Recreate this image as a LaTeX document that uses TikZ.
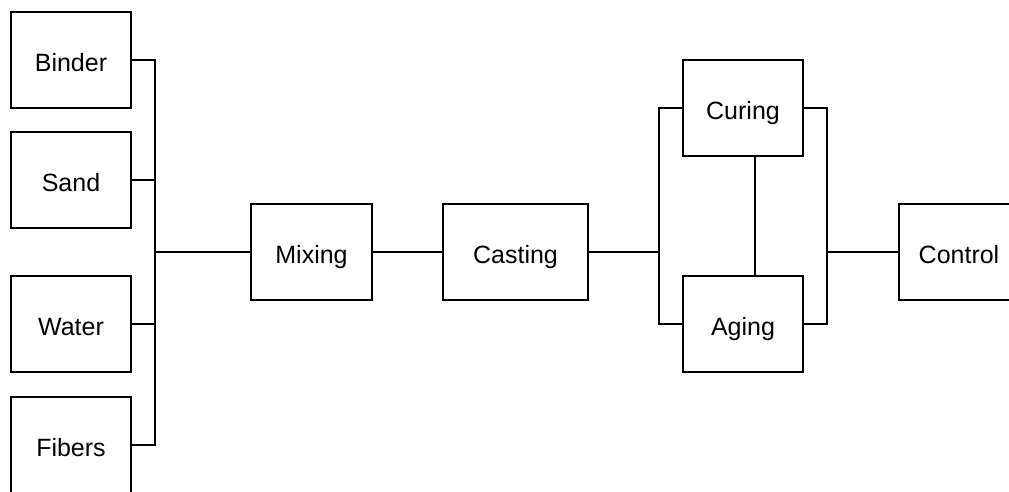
\documentclass[tikz,border=0pt]{standalone}
\usepackage{fontspec}
\setmainfont{Liberation Sans}
\begin{document}
\begin{tikzpicture}[x=1pt,y=-1pt,
  box/.style={draw, line width=2pt, minimum width=120pt, minimum height=96pt,
    inner sep=0pt, text height=23.5pt, text depth=0pt,
    font=\fontsize{25}{30}\selectfont},
  wire/.style={line width=2pt}]
\useasboundingbox (0,0) rectangle (1009,491);
\node[box] (binder) at (71,60) {Binder};
\node[box] (sand) at (71,180) {Sand};
\node[box] (water) at (71,324) {Water};
\node[box] (fibers) at (71,445) {Fibers};
\node[box, minimum width=121pt] (mixing) at (311.5,252) {Mixing};
\node[box, minimum width=145pt] (casting) at (515.5,252) {Casting};
\node[box] (curing) at (743,108) {Curing};
\node[box] (aging) at (743,324) {Aging};
\node[box] (control) at (959,252) {Control};
\coordinate (j1) at (155,252);
\coordinate (j2) at (659,252);
\coordinate (j3) at (827,252);
\draw[wire] (binder.east) -| (j1);
\draw[wire] (sand.east) -| (j1);
\draw[wire] (water.east) -| (j1);
\draw[wire] (fibers.east) -| (j1);
\draw[wire] (j1) -- (mixing.west);
\draw[wire] (mixing.east) -- (casting.west);
\draw[wire] (casting.east) -- (j2);
\draw[wire] (curing.west) -| (j2);
\draw[wire] (aging.west) -| (j2);
\draw[wire] ([xshift=12pt]curing.south) -- ([xshift=12pt]aging.north);
\draw[wire] (curing.east) -| (j3);
\draw[wire] (aging.east) -| (j3);
\draw[wire] (j3) -- (control.west);
\end{tikzpicture}
\end{document}
